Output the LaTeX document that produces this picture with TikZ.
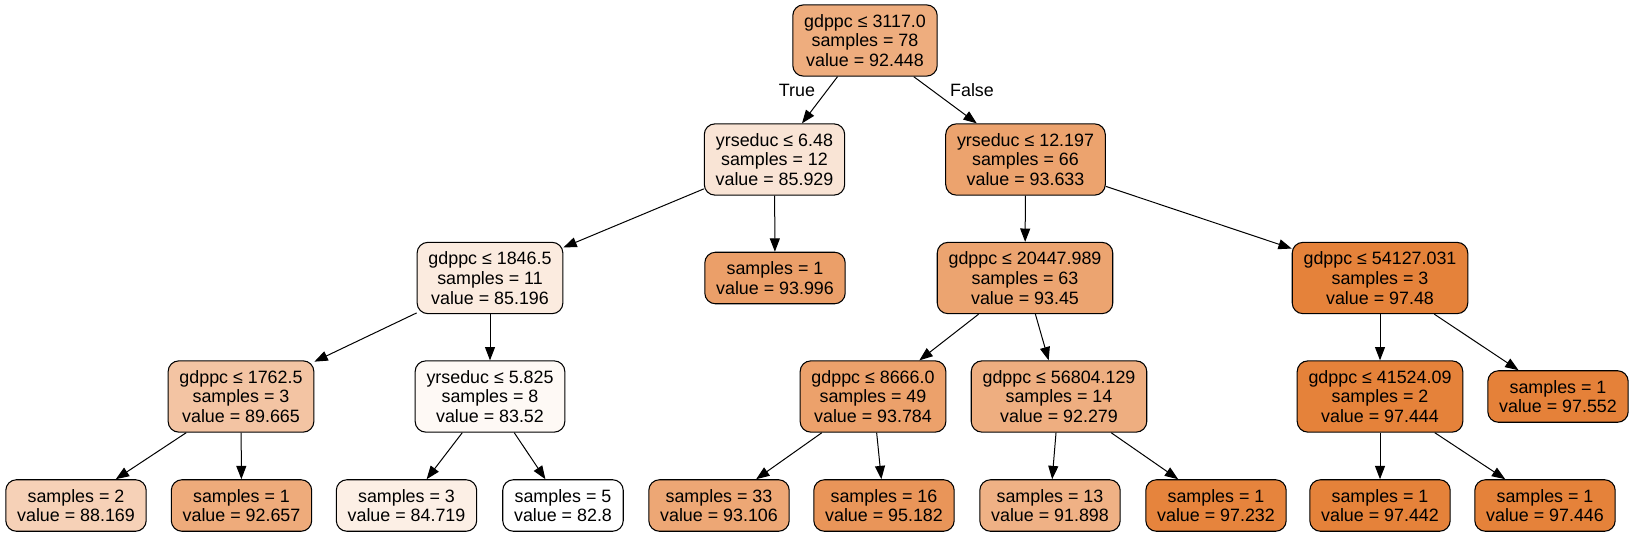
\documentclass[tikz,border=0pt]{standalone}
\usepackage{fontspec}
\setmainfont{Liberation Sans}
\usepackage{xcolor}
\usepackage{tikz}
\usetikzlibrary{arrows.meta}
\definecolor{orng}{HTML}{E58139}
\tikzset{
  treeNode/.style={draw=black, line width=0.8pt, rounded corners=8pt, align=center,
    inner xsep=8.5pt, inner ysep=7pt, font=\fontsize{13.4}{14.8}\selectfont},
  treeEdge/.style={-{Triangle[length=10pt,width=7.5pt]}, line width=0.75pt, black},
  lab/.style={font=\fontsize{13.4}{14.8}\selectfont}
}

\begin{document}
\begin{tikzpicture}[x=0.75pt, y=-0.75pt]
  \useasboundingbox (0,0) rectangle (1635,536);

  % Root
  \node[treeNode, fill=orng!65.4] (n0) at (865,40.5) {gdppc ≤ 3117.0\\samples = 78\\value = 92.448};

  % Depth 1
  \node[treeNode, fill=orng!21.2] (n1) at (774.5,159.5) {yrseduc ≤ 6.48\\samples = 12\\value = 85.929};
  \node[treeNode, fill=orng!73.4] (n10) at (1025.5,159.5) {yrseduc ≤ 12.197\\samples = 66\\value = 93.633};

  % Depth 2
  \node[treeNode, fill=orng!16.2] (n2) at (490,278) {gdppc ≤ 1846.5\\samples = 11\\value = 85.196};
  \node[treeNode, fill=orng!75.9] (n9) at (775,278) {samples = 1\\value = 93.996};
  \node[treeNode, fill=orng!72.2] (n11) at (1025,278) {gdppc ≤ 20447.989\\samples = 63\\value = 93.45};
  \node[treeNode, fill=orng!99.5] (n18) at (1380,278) {gdppc ≤ 54127.031\\samples = 3\\value = 97.48};

  % Depth 3
  \node[treeNode, fill=orng!46.5] (n3) at (241,396.5) {gdppc ≤ 1762.5\\samples = 3\\value = 89.665};
  \node[treeNode, fill=orng!4.9] (n6) at (490,396.5) {yrseduc ≤ 5.825\\samples = 8\\value = 83.52};
  \node[treeNode, fill=orng!74.5] (n12) at (873,396.5) {gdppc ≤ 8666.0\\samples = 49\\value = 93.784};
  \node[treeNode, fill=orng!64.3] (n15) at (1059,396.5) {gdppc ≤ 56804.129\\samples = 14\\value = 92.279};
  \node[treeNode, fill=orng!99.3] (n19) at (1380,396.5) {gdppc ≤ 41524.09\\samples = 2\\value = 97.444};
  \node[treeNode, fill=orng] (n22) at (1558,396.5) {samples = 1\\value = 97.552};

  % Depth 4
  \node[treeNode, fill=orng!36.4] (n4) at (76,505.5) {samples = 2\\value = 88.169};
  \node[treeNode, fill=orng!66.8] (n5) at (241.5,505.5) {samples = 1\\value = 92.657};
  \node[treeNode, fill=orng!13.0] (n7) at (406.5,505.5) {samples = 3\\value = 84.719};
  \node[treeNode, fill=white] (n8) at (563,505.5) {samples = 5\\value = 82.8};
  \node[treeNode, fill=orng!69.9] (n13) at (719,505.5) {samples = 33\\value = 93.106};
  \node[treeNode, fill=orng!83.9] (n14) at (884,505.5) {samples = 16\\value = 95.182};
  \node[treeNode, fill=orng!61.7] (n16) at (1050,505.5) {samples = 13\\value = 91.898};
  \node[treeNode, fill=orng!97.8] (n17) at (1216,505.5) {samples = 1\\value = 97.232};
  \node[treeNode, fill=orng!99.3] (n20) at (1380,505.5) {samples = 1\\value = 97.442};
  \node[treeNode, fill=orng!99.3] (n21) at (1545,505.5) {samples = 1\\value = 97.446};

  % Edges
  \draw[treeEdge] (n0) -- (n1);
  \draw[treeEdge] (n0) -- (n10);
  \draw[treeEdge] (n1) -- (n2);
  \draw[treeEdge] (n1) -- (n9);
  \draw[treeEdge] (n2) -- (n3);
  \draw[treeEdge] (n2) -- (n6);
  \draw[treeEdge] (n3) -- (n4);
  \draw[treeEdge] (n3) -- (n5);
  \draw[treeEdge] (n6) -- (n7);
  \draw[treeEdge] (n6) -- (n8);
  \draw[treeEdge] (n10) -- (n11);
  \draw[treeEdge] (n10) -- (n18);
  \draw[treeEdge] (n11) -- (n12);
  \draw[treeEdge] (n11) -- (n15);
  \draw[treeEdge] (n12) -- (n13);
  \draw[treeEdge] (n12) -- (n14);
  \draw[treeEdge] (n15) -- (n16);
  \draw[treeEdge] (n15) -- (n17);
  \draw[treeEdge] (n18) -- (n19);
  \draw[treeEdge] (n18) -- (n22);
  \draw[treeEdge] (n19) -- (n20);
  \draw[treeEdge] (n19) -- (n21);

  % Branch labels
  \node[lab] (tlab) at (797,90) {True};
  \node[lab] (flab) at (972,90) {False};
\end{tikzpicture}
\end{document}
